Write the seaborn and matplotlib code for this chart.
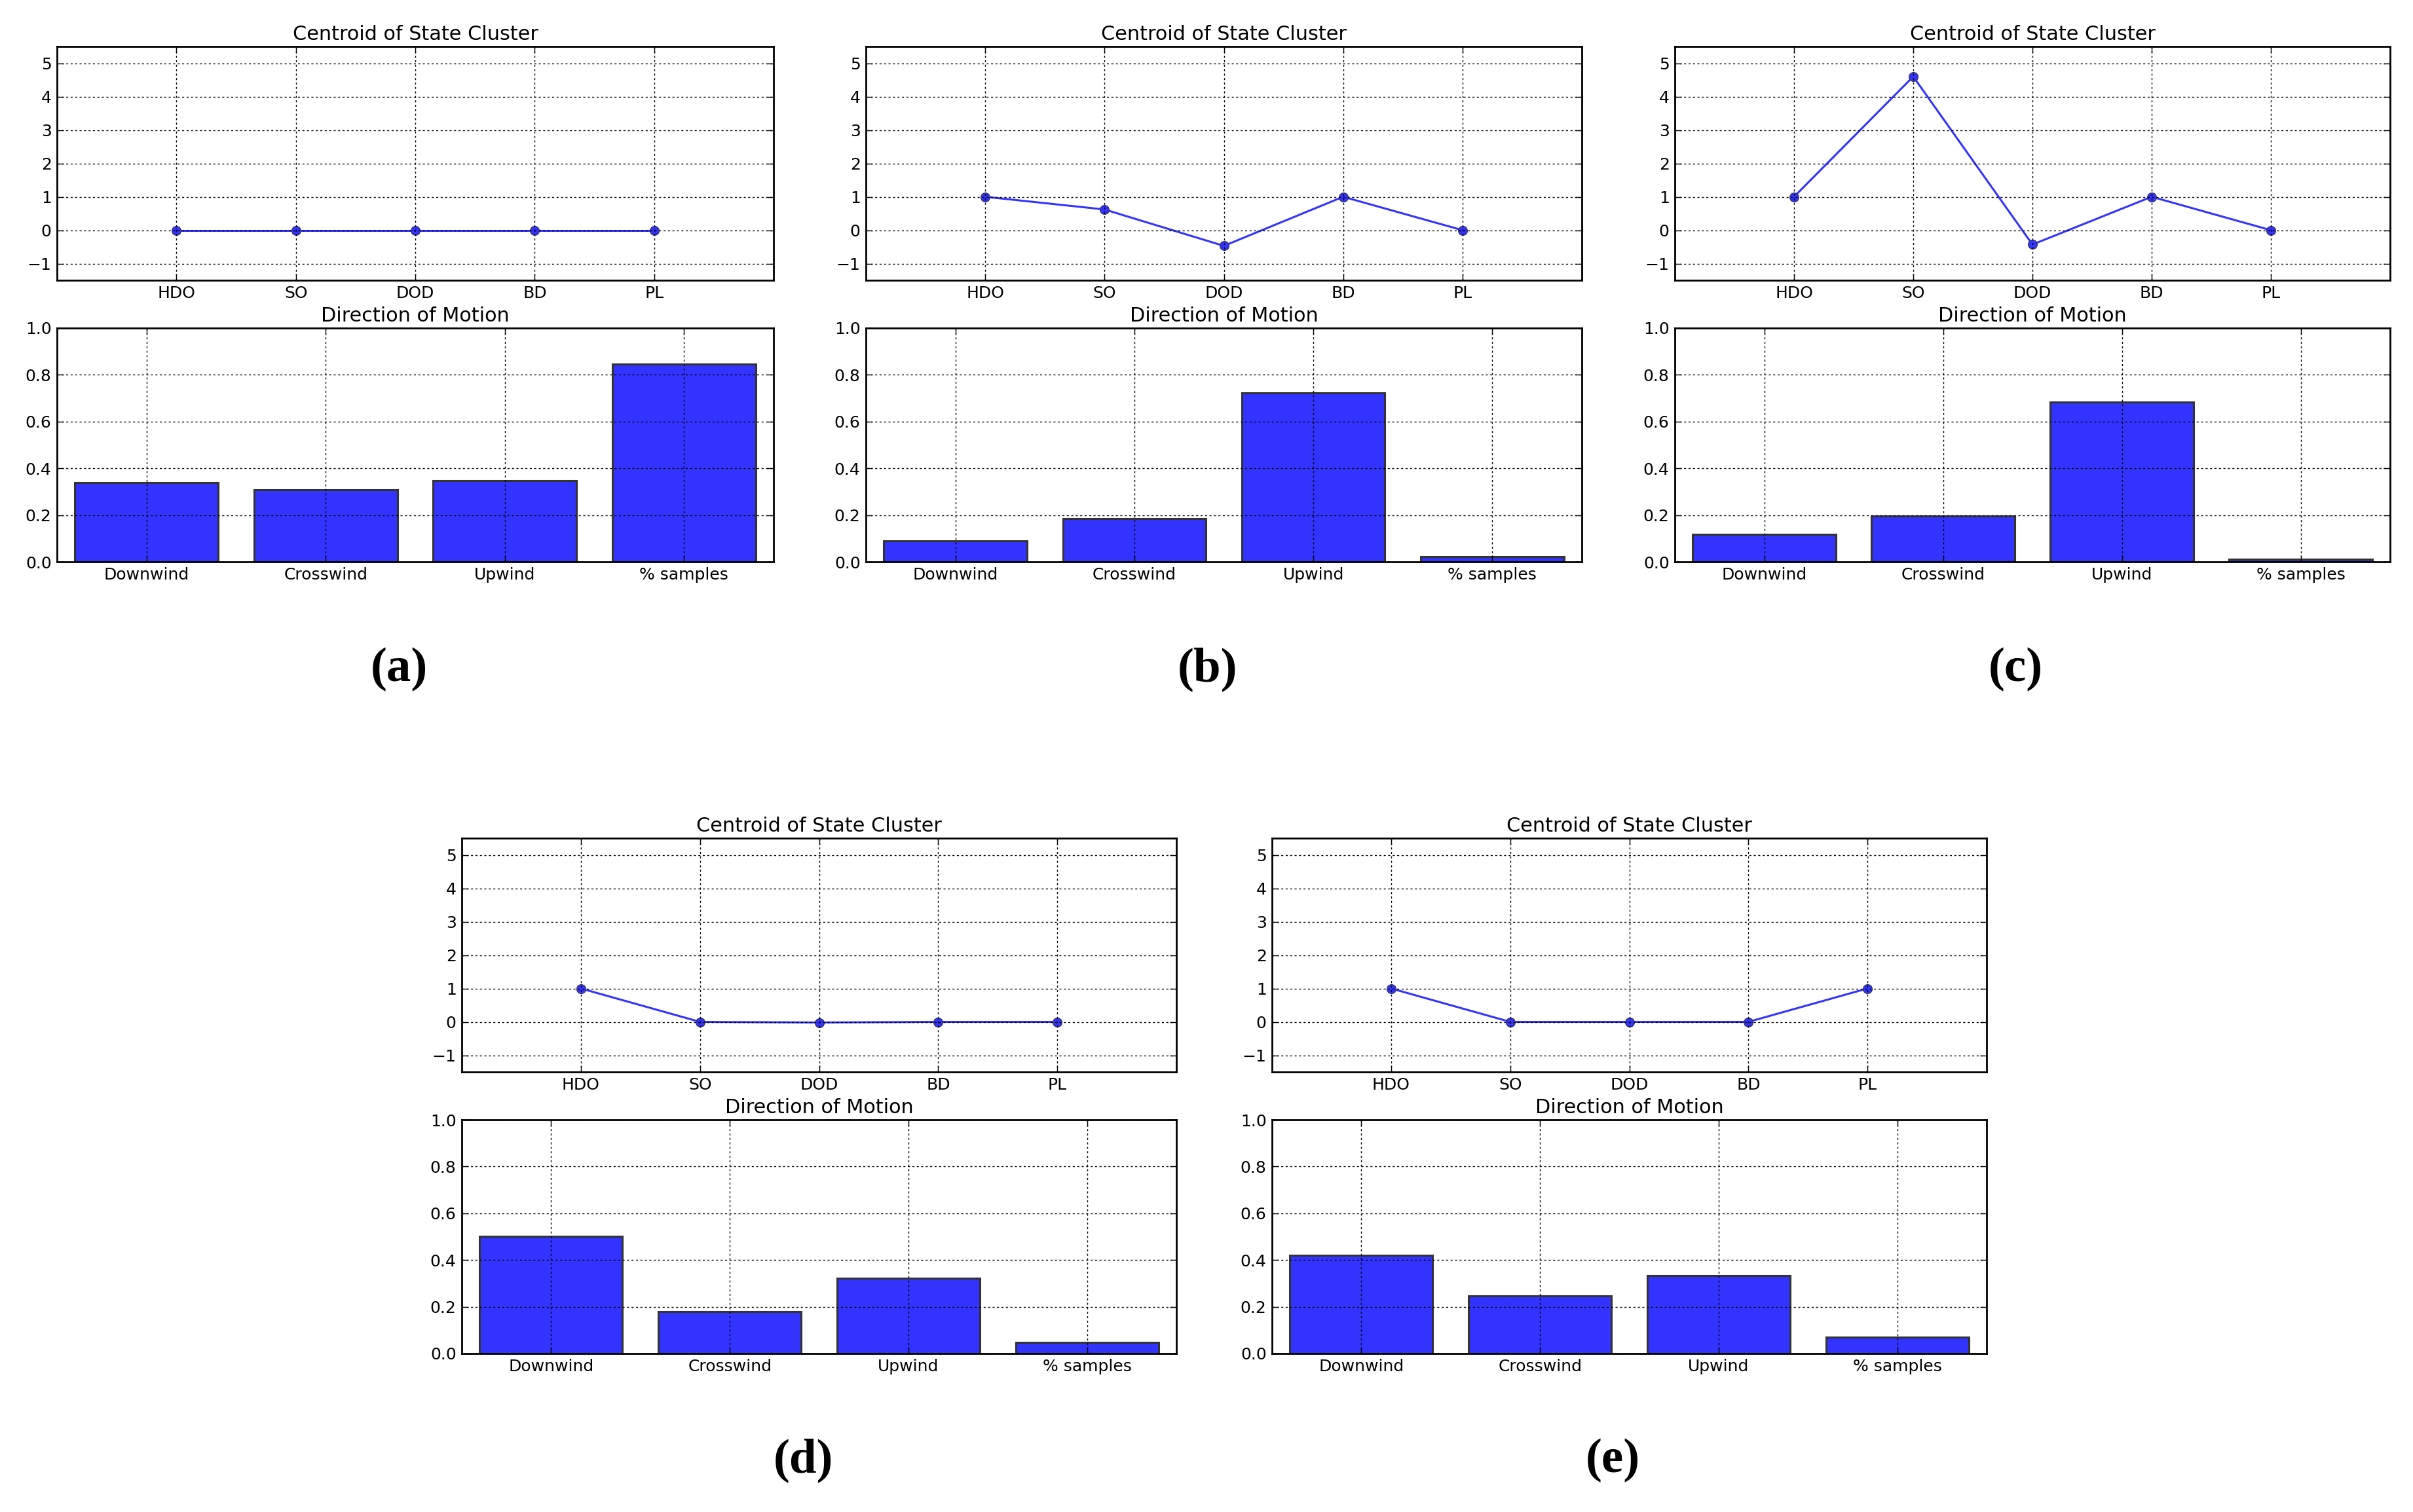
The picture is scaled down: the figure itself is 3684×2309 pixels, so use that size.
import numpy as np
import pandas as pd
import matplotlib
matplotlib.use("Agg")
import matplotlib.pyplot as plt
import seaborn as sns

# ---------------- data ----------------
features = ["HDO", "SO", "DOD", "BD", "PL"]
directions = ["Downwind", "Crosswind", "Upwind", "% samples"]
panel_labels = ["(a)", "(b)", "(c)", "(d)", "(e)"]

centroid_a = [0.0, 0.0, 0.0, 0.0, 0.0]
centroid_b = [1.0, 0.62, -0.47, 1.0, 0.0]
centroid_c = [1.0, 4.6, -0.43, 1.0, 0.0]
centroid_d = [1.0, 0.0, -0.02, 0.0, 0.0]
centroid_e = [1.0, 0.0, 0.0, 0.0, 1.0]

motion_a = [0.340, 0.309, 0.348, 0.845]
motion_b = [0.090, 0.186, 0.722, 0.023]
motion_c = [0.119, 0.196, 0.683, 0.012]
motion_d = [0.502, 0.179, 0.321, 0.047]
motion_e = [0.419, 0.246, 0.333, 0.071]

centroids = [centroid_a, centroid_b, centroid_c, centroid_d, centroid_e]
motions = [motion_a, motion_b, motion_c, motion_d, motion_e]

top_title = "Centroid of State Cluster"
bottom_title = "Direction of Motion"

# ---------------- style ----------------
sns.set_style("white")
plt.rcParams["font.family"] = ["DejaVu Sans"]
plt.rcParams["axes.unicode_minus"] = True
plt.rcParams["text.color"] = "black"
plt.rcParams["axes.titlecolor"] = "black"

W, H = 3684, 2309
DPI = 100
fig = plt.figure(figsize=(W / DPI, H / DPI), dpi=DPI)
fig.patch.set_facecolor("white")

BLUE = "#3333ff"
EDGE = "#333333"

# layout in pixels: (left, right) for each panel, top of upper axes
x_spans = [(87, 1181), (1322, 2415), (2557, 3649), (705, 1796), (1942, 3033)]
tops = [71, 71, 71, 1280, 1280]
AX_H = 357
BAR_OFF = 430
label_pos = [(609, 1022), (1843, 1022), (3077, 1022), (1226, 2230), (2462, 2230)]


def add_axes_px(l, r, t, b):
    return fig.add_axes([l / W, 1 - b / H, (r - l) / W, (b - t) / H])


def style_axes(ax):
    for sp in ax.spines.values():
        sp.set_linewidth(2.0)
        sp.set_color("black")
        sp.set_visible(True)
    ax.tick_params(axis="both", which="major", direction="in", length=7, width=1,
                   top=True, right=True, bottom=True, left=True,
                   labelsize=18, colors="black")
    ax.tick_params(axis="x", pad=6)
    ax.tick_params(axis="y", pad=6)
    ax.set_axisbelow(False)
    ax.grid(True, which="major", axis="both", color="black",
            linestyle=(0, (2.2, 2.7)), linewidth=1.0)
    ax.set_xlabel("")
    ax.set_ylabel("")


for i in range(5):
    l, r = x_spans[i]
    t = tops[i]
    # upper: centroid line
    ax1 = add_axes_px(l, r, t, t + AX_H)
    df1 = pd.DataFrame({"feature": features, "value": centroids[i]})
    sns.lineplot(data=df1, x="feature", y="value", ax=ax1, sort=False,
                 color=BLUE, linewidth=2.2, marker="o", markersize=10,
                 markeredgecolor=EDGE, markeredgewidth=0.8,
                 markerfacecolor=BLUE, legend=False)
    ax1.set_xlim(-1, len(features))
    ax1.set_ylim(-1.5, 5.5)
    ax1.set_yticks(range(-1, 6))
    ax1.set_title(top_title, fontsize=21.8, pad=7.5, color="black")
    style_axes(ax1)

    # lower: direction bars
    tb = t + BAR_OFF
    ax2 = add_axes_px(l, r, tb, tb + AX_H)
    df2 = pd.DataFrame({"direction": directions, "value": motions[i]})
    sns.barplot(data=df2, x="direction", y="value", ax=ax2, color=BLUE,
                saturation=1, width=0.8, edgecolor=EDGE, linewidth=2.2,
                errorbar=None)
    ax2.set_xlim(-0.5, len(directions) - 0.5)
    ax2.set_ylim(0, 1.0)
    ax2.set_yticks(np.arange(0, 1.01, 0.2))
    ax2.set_title(bottom_title, fontsize=21.8, pad=7.5, color="black")
    style_axes(ax2)

    lx, ly = label_pos[i]
    fig.text(lx / W, 1 - ly / H, panel_labels[i], ha="center", va="center",
             fontsize=54, fontweight="bold", color="black",
             family=["Liberation Serif", "DejaVu Serif"])

fig.savefig("out.png", dpi=DPI, facecolor="white")
